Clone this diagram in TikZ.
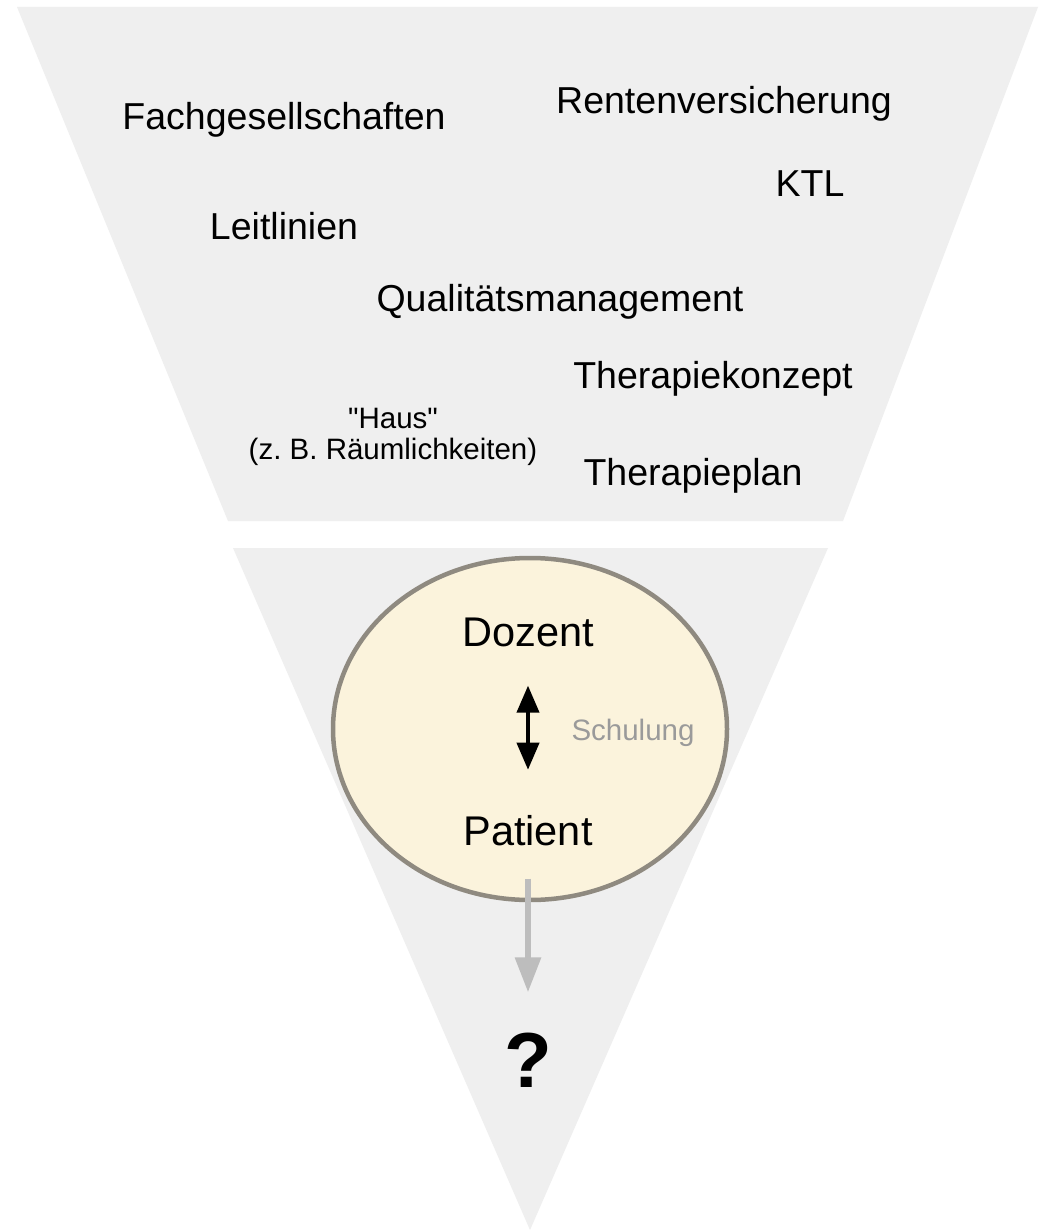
\documentclass[tikz,border=0pt]{standalone}
\usepackage{fontspec}
\setmainfont{Liberation Sans}
\newfontfamily\plainquotes{Liberation Sans}[Ligatures=TeXOff]
\usepackage{xcolor}
\usepackage{tikz}
\usetikzlibrary{arrows.meta, positioning, shapes.geometric}

\definecolor{funnelgray}{HTML}{EFEFEF}
\definecolor{creamfill}{HTML}{FBF3DC}
\definecolor{rimgray}{HTML}{8F8A80}
\definecolor{labelgray}{HTML}{9A9A9A}
\definecolor{flowgray}{HTML}{BDBDBD}

\begin{document}
\frenchspacing
\begin{tikzpicture}[
    x=1pt, y=-1pt,
    funnel/.style={fill=funnelgray, draw=none},
    term/.style={inner sep=0pt, anchor=base, font=\fontsize{37.5}{40}\selectfont},
    smallterm/.style={inner sep=0pt, anchor=base, font=\fontsize{29.5}{31}\selectfont},
    role/.style={inner sep=0pt, anchor=base, font=\fontsize{41.5}{44}\selectfont},
    core/.style={ellipse, draw=rimgray, line width=4.5pt, fill=creamfill, minimum width=394pt, minimum height=342pt},
    arrow/.style={line width=4pt, {Triangle[width=22pt,length=27pt]}-{Triangle[width=22pt,length=27pt]}},
    flow/.style={draw=flowgray, line width=6pt, -{Triangle[width=25pt,length=35pt]}}
]
\useasboundingbox (0,0) rectangle (1039,1230);
\fill[white] (0,0) rectangle (1039,1230);

% upper and lower part of the funnel
\path[funnel] (17,7) -- (1038,7) -- (843,521) -- (228,521) -- cycle;
\path[funnel] (233,548) -- (828,548) -- (530,1230) -- cycle;

% frame conditions
\node[term] (fach) at (284,130) {Fachgesellschaften};
\node[term] (rente) at (724,114) {Rentenversicherung};
\node[term] (ktl) at (810,197) {KTL};
\node[term] (leit) at (284,240) {Leitlinien};
\node[term] (qm) at (560,312) {Qualitätsmanagement};
\node[term] (konzept) at (713,388) {Therapiekonzept};
\node[term] (plan) at (693,485) {Therapieplan};
\node[smallterm] (haus) at (393,428) {\plainquotes "Haus"};
\node[smallterm] (raum) at (393,459) {(z. B. Räumlichkeiten)};

% teaching situation
\node[core] (circle) at (530,729) {};
\node[role] (dozent) at (528,646) {Dozent};
\node[role] (patient) at (528,845) {Patient};
\node[smallterm, text=labelgray] (schulung) at (633,740) {Schulung};
\node[inner sep=0pt, anchor=base, font=\fontsize{78}{80}\selectfont\bfseries] (frage) at (528,1087) {?};

\draw[arrow, shorten <=39pt, shorten >=45pt] (dozent) -- (patient);
\draw[flow, shorten <=33pt, shorten >=40pt] (patient) -- (frage);

\end{tikzpicture}
\end{document}
